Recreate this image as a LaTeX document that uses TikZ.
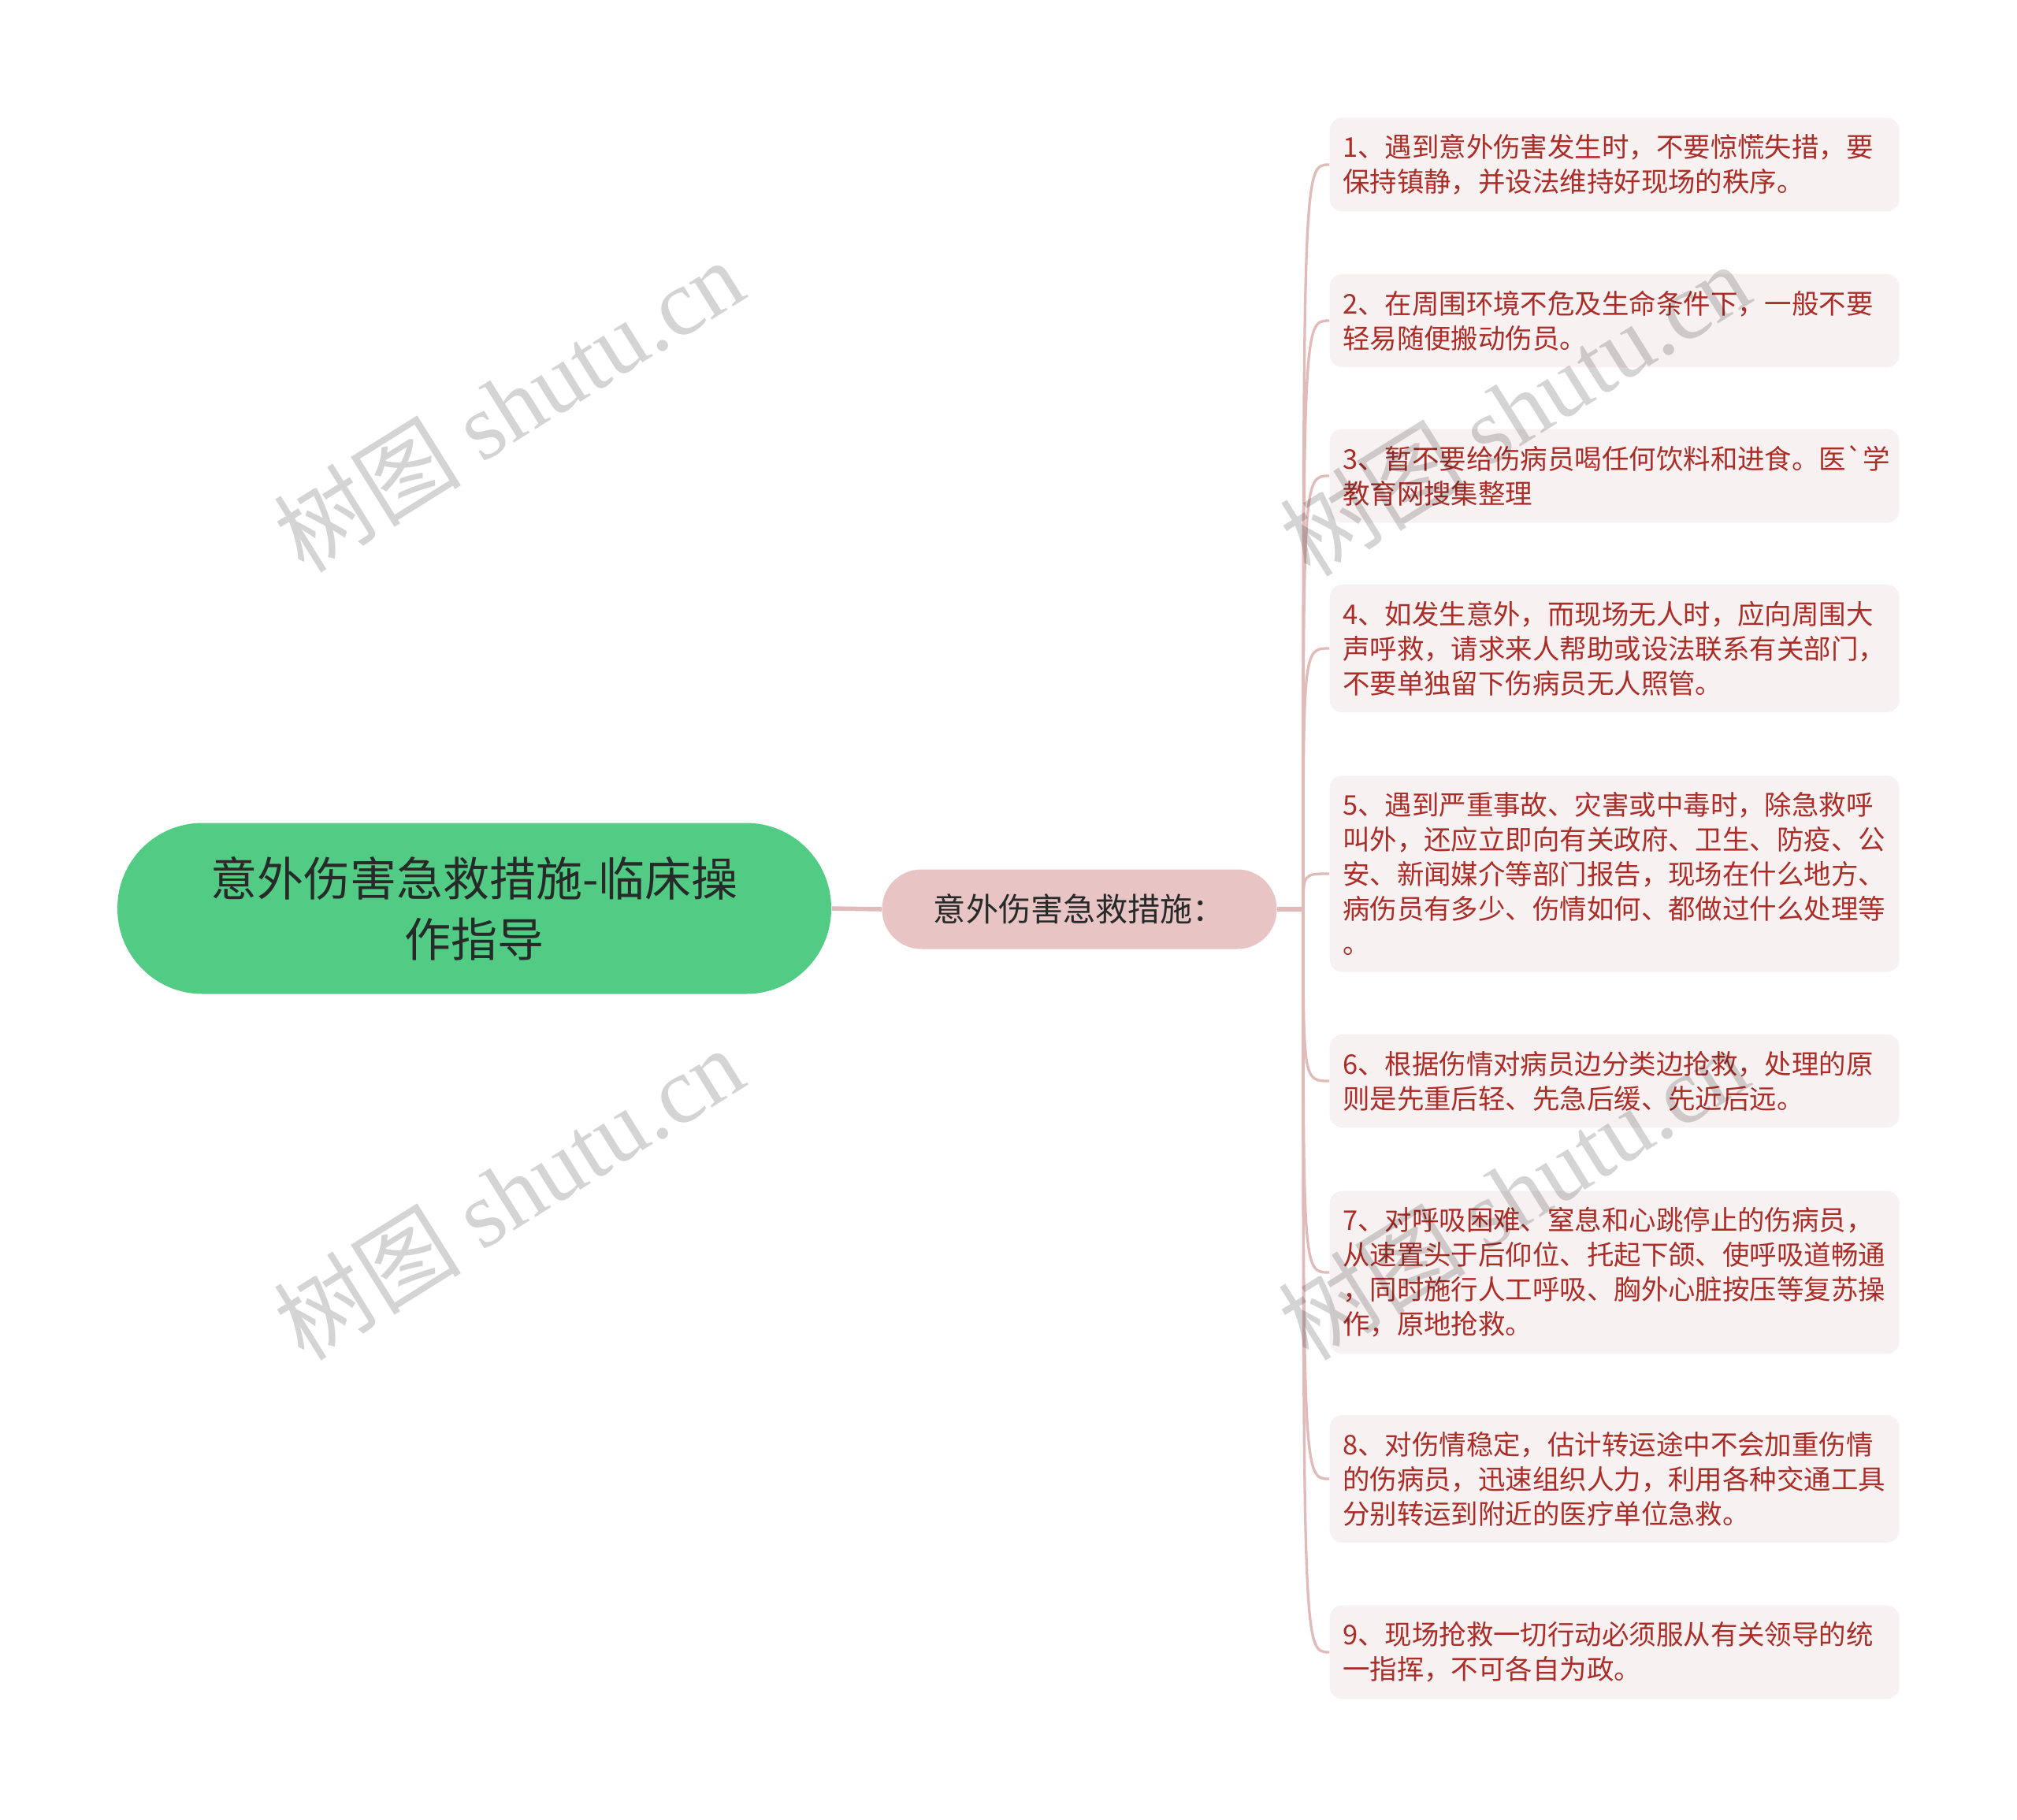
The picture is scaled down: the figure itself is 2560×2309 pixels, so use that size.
\documentclass[tikz,border=0pt]{standalone}
\usepackage{fontspec}
\setmainfont{Noto Sans CJK SC}[Ligatures=TeXOff]
\newfontfamily\wmfont{Liberation Serif}
\usetikzlibrary{calc}
\definecolor{rootgreen}{RGB}{82,204,132}
\definecolor{subpink}{RGB}{232,196,196}
\definecolor{itemfill}{RGB}{248,241,241}
\definecolor{itemtext}{RGB}{170,45,40}
\definecolor{branch}{RGB}{225,186,186}
\definecolor{darktext}{RGB}{38,42,40}

\begin{document}
\begin{tikzpicture}[x=0.1mm,y=-0.1mm,
  rootbox/.style={fill=rootgreen,rounded corners=10.8mm,minimum width=90.6mm,minimum height=21.7mm,align=center,text=darktext,font=\fontsize{16.8}{21.9}\selectfont},
  subbox/.style={fill=subpink,rounded corners=5mm,minimum width=50.1mm,minimum height=10.1mm,text=darktext,font=\fontsize{11.7}{14}\selectfont},
  itembox/.style={fill=itemfill,rounded corners=1.6mm,anchor=west,text width=69mm,inner xsep=1.65mm,inner ysep=2.1mm,align=left,text=itemtext,font=\fontsize{9.8}{12.5}\selectfont},
  trunk/.style={draw=branch,line width=0.55mm},
  link/.style={draw=branch,line width=0.33mm},
  wmark/.style={text=black,text opacity=0.17,rotate=32,font=\fontsize{34}{38}\selectfont}]

\fill[white] (0,0) rectangle (2560,2309);
\useasboundingbox (0,0) rectangle (2560,2309);

\begin{scope}
\node[rootbox] (root) at (602,1153) {意外伤害急救措施-临床操\\作指导};
\node[subbox] (sub) at (1370,1154) {意外伤害急救措施：};
\coordinate (h) at (1654,1154);

\node[itembox] (a) at (1687,209) {1、遇到意外伤害发生时，不要惊慌失措，要\\保持镇静，并设法维持好现场的秩序。};
\node[itembox] (b) at (1687,407) {2、在周围环境不危及生命条件下，一般不要\\轻易随便搬动伤员。};
\node[itembox] (c) at (1687,604) {3、暂不要给伤病员喝任何饮料和进食。医`学\\教育网搜集整理};
\node[itembox] (d) at (1687,823) {4、如发生意外，而现场无人时，应向周围大\\声呼救，请求来人帮助或设法联系有关部门，\\不要单独留下伤病员无人照管。};
\node[itembox] (e) at (1687,1109) {5、遇到严重事故、灾害或中毒时，除急救呼\\叫外，还应立即向有关政府、卫生、防疫、公\\安、新闻媒介等部门报告，现场在什么地方、\\病伤员有多少、伤情如何、都做过什么处理等\\。};
\node[itembox] (f) at (1687,1372) {6、根据伤情对病员边分类边抢救，处理的原\\则是先重后轻、先急后缓、先近后远。};
\node[itembox] (g) at (1687,1615) {7、对呼吸困难、窒息和心跳停止的伤病员，\\从速置头于后仰位、托起下颌、使呼吸道畅通\\，同时施行人工呼吸、胸外心脏按压等复苏操\\作，原地抢救。};
\node[itembox] (k) at (1687,1877) {8、对伤情稳定，估计转运途中不会加重伤情\\的伤病员，迅速组织人力，利用各种交通工具\\分别转运到附近的医疗单位急救。};
\node[itembox] (m) at (1687,2097) {9、现场抢救一切行动必须服从有关领导的统\\一指挥，不可各自为政。};

\draw[trunk] (root.east) -- (sub.west);
\draw[trunk] (sub.east) -- (h);

\draw[link] (h) .. controls (h |- a.west) .. (a.west);
\draw[link] (h) .. controls (h |- b.west) .. (b.west);
\draw[link] (h) .. controls (h |- c.west) .. (c.west);
\draw[link] (h) .. controls (h |- d.west) .. (d.west);
\draw[link] (h) .. controls (h |- e.west) .. (e.west);
\draw[link] (h) .. controls (h |- f.west) .. (f.west);
\draw[link] (h) .. controls (h |- g.west) .. (g.west);
\draw[link] (h) .. controls (h |- k.west) .. (k.west);
\draw[link] (h) .. controls (h |- m.west) .. (m.west);
\end{scope}

\node[wmark] (w1) at (645,514) {树图 {\wmfont shutu.cn}};
\node[wmark] (w2) at (645,1514) {树图 {\wmfont shutu.cn}};
\node[wmark] (w3) at (1922,519) {树图 {\wmfont shutu.cn}};
\node[wmark] (w4) at (1920,1514) {树图 {\wmfont shutu.cn}};

\end{tikzpicture}
\end{document}
